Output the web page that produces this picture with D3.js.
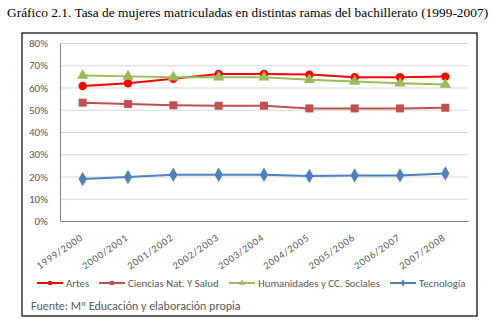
<!DOCTYPE html>
<html>
<head>
<meta charset="utf-8">
<script src="https://cdn.jsdelivr.net/npm/d3@7"></script>
<style>
  body { margin: 0; background: #fff; }
  svg { display: block; }
  .axis text { fill: #595959; font-family: Carlito, Calibri, Lato, sans-serif; }
</style>
</head>
<body>
<div id="chart"></div>
<script>
// Data
const years = ["1999/2000", "2000/2001", "2001/2002", "2002/2003", "2003/2004",
               "2004/2005", "2005/2006", "2006/2007", "2007/2008"];
const artes       = [60.7, 61.9, 63.9, 66.1, 66.1, 65.8, 64.6, 64.6, 64.9];
const ciencias    = [53.2, 52.6, 52.0, 51.8, 51.8, 50.6, 50.6, 50.6, 50.9];
const humanidades = [65.4, 65.0, 64.6, 64.6, 64.6, 63.5, 62.7, 61.9, 61.4];
const tecnologia  = [18.9, 19.8, 20.8, 20.8, 20.8, 20.2, 20.5, 20.5, 21.4];
const yTicks = [0, 10, 20, 30, 40, 50, 60, 70, 80];

const series = [
  { name: "Artes",                        values: artes,       color: "#ff0000", marker: "circle" },
  { name: "Ciencias Nat. Y Salud",        values: ciencias,    color: "#c0504d", marker: "square" },
  { name: "Humanidades y CC. Sociales",   values: humanidades, color: "#9bbb59", marker: "triangle" },
  { name: "Tecnología",                   values: tecnologia,  color: "#4f81bd", marker: "diamond" }
];

const W = 493, H = 328;
const margin = { top: 43, right: 25, bottom: 107, left: 60 };
const width  = W - margin.left - margin.right;
const height = H - margin.top - margin.bottom;

const svg = d3.select("#chart").append("svg")
  .attr("width", W).attr("height", H);

// title above the framed chart
svg.append("text")
  .attr("x", 7).attr("y", 17)
  .attr("font-family", "'Liberation Serif', 'Times New Roman', serif")
  .attr("font-size", 13.4)
  .attr("fill", "#000")
  .text("Gráfico 2.1. Tasa de mujeres matriculadas en distintas ramas del bachillerato (1999-2007)");

// outer frame
svg.append("rect")
  .attr("x", 22).attr("y", 33).attr("width", 455).attr("height", 283)
  .attr("fill", "none").attr("stroke", "#000").attr("stroke-width", 1.2);

const g = svg.append("g").attr("transform", `translate(${margin.left},${margin.top})`);

const x = d3.scaleBand().domain(years).range([0, width]);
const y = d3.scaleLinear().domain([0, 80]).range([height, 0]);
const cx = d => x(d) + x.bandwidth() / 2;

// gridlines
g.append("g").selectAll("line").data(yTicks.slice(1)).join("line")
  .attr("x1", 0).attr("x2", width)
  .attr("y1", d => y(d) + 0.5).attr("y2", d => y(d) + 0.5)
  .attr("stroke", "#d9d9d9").attr("stroke-width", 1);

// y axis
const yAxis = g.append("g").attr("class", "axis")
  .call(d3.axisLeft(y).tickValues(yTicks).tickFormat(d => d + "%").tickSize(0).tickPadding(12));
yAxis.select(".domain").attr("stroke", "#868686");
yAxis.selectAll("text").attr("font-size", 11);

// x axis, slanted labels
const xAxis = g.append("g").attr("class", "axis")
  .attr("transform", `translate(0,${height})`)
  .call(d3.axisBottom(x).tickSize(0).tickSizeOuter(0));
xAxis.select(".domain").attr("stroke", "#868686");
xAxis.selectAll("text")
  .attr("font-size", 10.3)
  .attr("letter-spacing", 0.9)
  .attr("text-anchor", "end")
  .attr("y", 0).attr("dy", 0)
  .attr("transform", "translate(1,18) rotate(-35)");

// lines and markers
const line = d3.line().x((d, i) => cx(years[i])).y(d => y(d));
const sym = {
  circle:   d3.symbol(d3.symbolCircle, 55),
  square:   d3.symbol(d3.symbolSquare, 64),
  triangle: d3.symbol(d3.symbolTriangle, 55),
  diamond:  d3.symbol(d3.symbolDiamond, 60)
};

series.forEach(s => {
  g.append("path").datum(s.values)
    .attr("fill", "none").attr("stroke", s.color).attr("stroke-width", 2)
    .attr("d", line);
  g.append("g").selectAll("path").data(s.values).join("path")
    .attr("transform", (d, i) => `translate(${cx(years[i])},${y(d)})`)
    .attr("fill", s.color)
    .attr("d", sym[s.marker]());
});

// legend
const legendX = [37, 99, 229, 390];
const legendY = 283;
const smallSym = {
  circle:   d3.symbol(d3.symbolCircle, 16),
  square:   d3.symbol(d3.symbolSquare, 18),
  triangle: d3.symbol(d3.symbolTriangle, 16),
  diamond:  d3.symbol(d3.symbolDiamond, 16)
};
series.forEach((s, i) => {
  const lg = svg.append("g").attr("transform", `translate(${legendX[i]},${legendY})`);
  lg.append("line").attr("x1", 0).attr("x2", 26).attr("y1", 0).attr("y2", 0)
    .attr("stroke", s.color).attr("stroke-width", 2);
  lg.append("path").attr("transform", "translate(13,0)").attr("fill", s.color)
    .attr("d", smallSym[s.marker]());
  lg.append("text").attr("x", 29).attr("y", 3.8)
    .attr("font-family", "Carlito, Calibri, Lato, sans-serif")
    .attr("font-size", 10.8).attr("fill", "#595959")
    .text(s.name);
});

// source note
svg.append("text")
  .attr("x", 31).attr("y", 309.5)
  .attr("font-family", "Carlito, Calibri, Lato, sans-serif")
  .attr("font-size", 12).attr("fill", "#595959")
  .text("Fuente: Mº Educación y elaboración propia");
</script>
</body>
</html>
